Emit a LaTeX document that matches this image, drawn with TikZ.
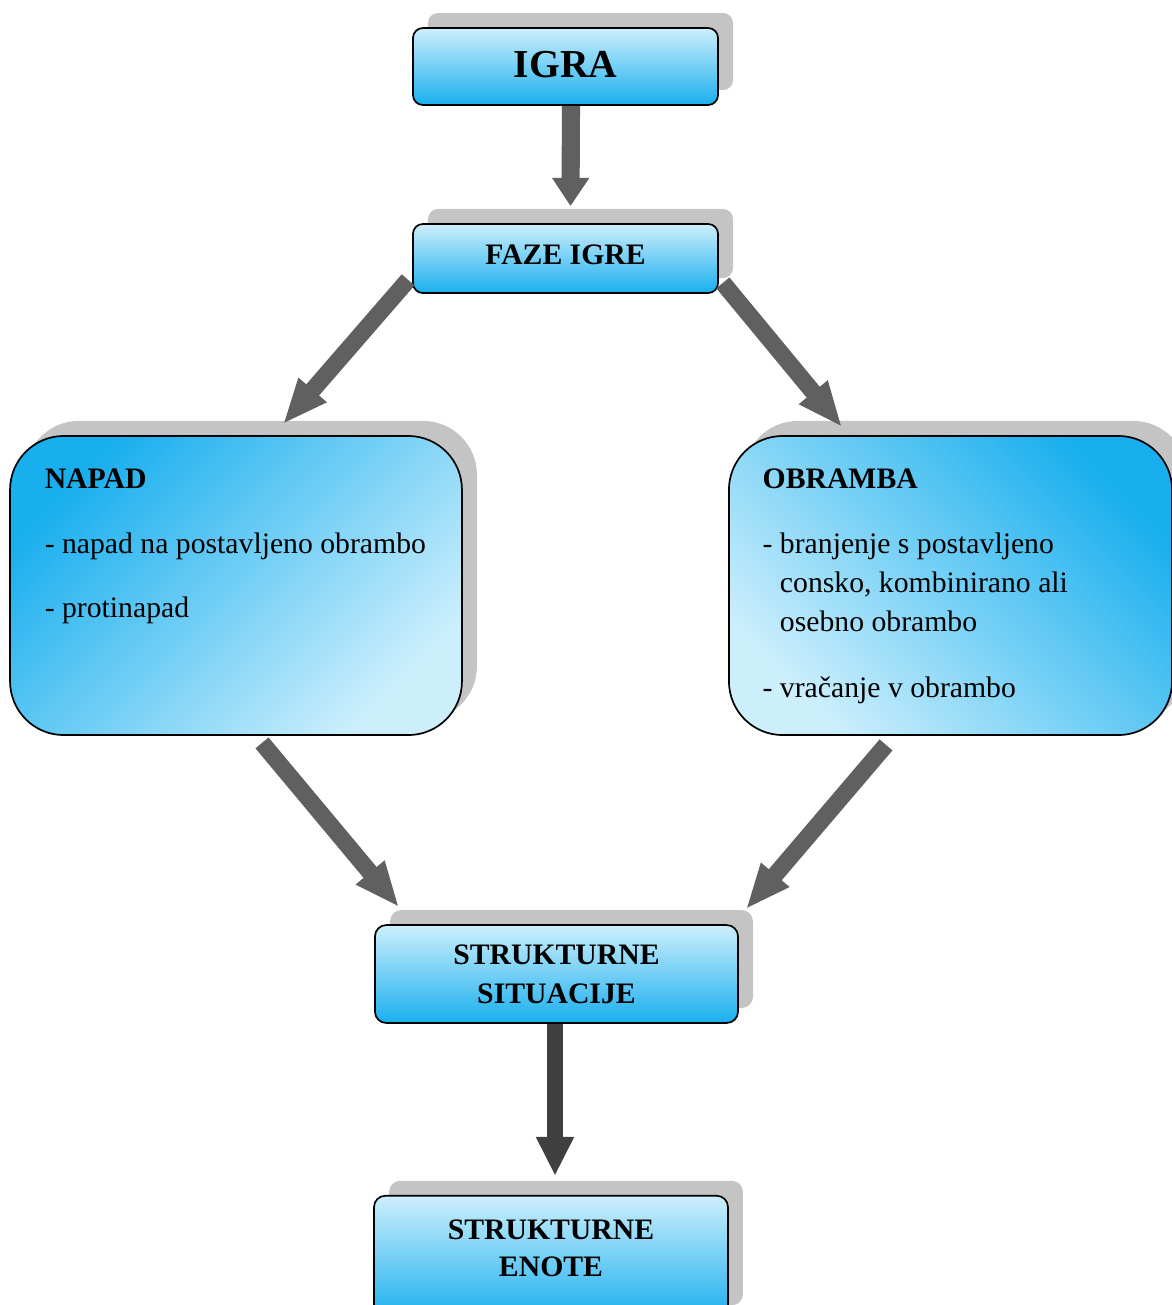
\documentclass[tikz,border=0pt]{standalone}
\usepackage{fontspec}
\setmainfont{Liberation Serif}
\usetikzlibrary{arrows.meta,shadows}

\definecolor{lightblue}{HTML}{CDEFFC}
\definecolor{deepblue}{HTML}{19AFEE}
\definecolor{arrowgray}{HTML}{606060}
\definecolor{arrowdark}{HTML}{404040}
\definecolor{shadowgray}{HTML}{C4C4C4}

\begin{document}
\begin{tikzpicture}[x=0.3534pt, y=-0.3534pt,
	box/.style={draw=black, line width=0.6pt, rounded corners=3.5pt, top color=lightblue, bottom color=deepblue,
		general shadow={shadow xshift=5.3pt, shadow yshift=5.3pt, fill=shadowgray},
		font=\fontsize{10.5}{13.8}\selectfont\bfseries, align=center, inner sep=0pt},
	bigbox/.style={box, rounded corners=19pt, top color=deepblue, bottom color=lightblue},
	txt/.style={font=\fontsize{10.5}{13.8}\selectfont, align=left, inner sep=0pt, anchor=north west},
	fat/.style={draw=arrowgray, line width=6pt, -{Triangle[width=12pt,length=16pt]}}]
			\useasboundingbox (0,0) rectangle (1172,1305);
			\clip (0,0) rectangle (1172,1305);
			
			% Game and phases
			\node[box, minimum width=107.8pt, minimum height=27.2pt, font=\fontsize{14}{16}\selectfont\bfseries, text depth=1.4pt] (igra) at (565.5,66.5) {IGRA};
			\node[box, minimum width=107.8pt, minimum height=24.4pt, text depth=2.8pt] (faze) at (565.5,258.5) {FAZE IGRE};
			
			% Attack and defence
			\node[bigbox, minimum width=159.7pt, minimum height=105.7pt, shading angle=45] (napad) at (236,585.5) {};
			\node[txt] (napadtxt) at ([shift={(35,33)}]napad.north west) {\textbf{NAPAD}\\[9.3pt]- napad na postavljeno obrambo\\[8.8pt]- protinapad};
			
			\node[bigbox, minimum width=156.6pt, minimum height=105.7pt, shading angle=-45] (obramba) at (950.5,585.5) {};
			\node[txt] (obrambatxt) at ([shift={(34,33)}]obramba.north west) {\textbf{OBRAMBA}\\[9.3pt]- branjenje s postavljeno\\\phantom{- }consko, kombinirano ali\\\phantom{- }osebno obrambo\\[9.3pt]- vračanje v obrambo};
			
			% Structures
			\node[box, rounded corners=4pt, minimum width=128.3pt, minimum height=34.6pt] (situacije) at (556.5,974) {STRUKTURNE\\SITUACIJE};
			\node[box, rounded corners=4pt, minimum width=125.1pt, minimum height=44pt, text depth=7pt] (enote) at (551,1258) {STRUKTURNE\\[-1pt]ENOTE};
			
			% Arrows
			\draw[fat, line width=6.4pt, -{Triangle[width=12.5pt,length=10pt]}] ([shift={(5.5,0)}]igra.south) -- ([shift={(5,-17)}]faze.north);
			\draw[fat] ([shift={(-4,-14)}]faze.south west) -- ([shift={(47,-11)}]napad.north);
			\draw[fat] ([shift={(4,-11)}]faze.south east) -- ([shift={(114,-8)}]obramba.north west);
			\draw[fat] ([shift={(26,7)}]napad.south) -- ([shift={(25,-17)}]situacije.north west);
			\draw[fat] ([shift={(-64.5,9)}]obramba.south) -- ([shift={(7,-15)}]situacije.north east);
			\draw[fat, draw=arrowdark, -{Triangle[width=12.5pt,length=13.8pt]}] ([shift={(-1.5,0)}]situacije.south) -- ([shift={(4,-19)}]enote.north);
\end{tikzpicture}
\end{document}
